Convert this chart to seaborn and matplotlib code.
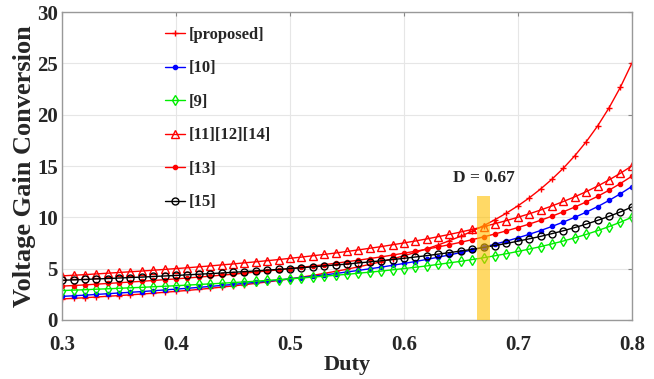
import matplotlib
matplotlib.use("Agg")
import matplotlib.pyplot as plt
import seaborn as sns
import pandas as pd

duty = [round(0.30 + 0.01 * i, 2) for i in range(51)]

proposed = [2.04, 2.10, 2.16, 2.23, 2.30, 2.37, 2.44, 2.52, 2.60, 2.69, 2.78,
            2.87, 2.97, 3.08, 3.19, 3.31, 3.43, 3.56, 3.70, 3.84, 4.00, 4.16,
            4.34, 4.53, 4.73, 4.94, 5.17, 5.41, 5.67, 5.95, 6.25, 6.57, 6.93,
            7.30, 7.72, 8.16, 8.65, 9.18, 9.77, 10.41, 11.11, 11.89, 12.76,
            13.72, 14.79, 16.00, 17.36, 18.90, 20.66, 22.68, 25.00]
ref10 = [2.29, 2.35, 2.41, 2.48, 2.55, 2.62, 2.69, 2.76, 2.84, 2.92, 3.00,
         3.08, 3.17, 3.26, 3.36, 3.45, 3.56, 3.66, 3.77, 3.88, 4.00, 4.12,
         4.25, 4.38, 4.52, 4.67, 4.82, 4.98, 5.14, 5.32, 5.50, 5.69, 5.89,
         6.11, 6.33, 6.57, 6.82, 7.09, 7.38, 7.68, 8.00, 8.34, 8.71, 9.11,
         9.54, 10.00, 10.50, 11.04, 11.64, 12.29, 13.00]
ref9 = [2.86, 2.90, 2.94, 2.99, 3.03, 3.08, 3.13, 3.17, 3.23, 3.28, 3.33,
        3.39, 3.45, 3.51, 3.57, 3.64, 3.70, 3.77, 3.85, 3.92, 4.00, 4.08,
        4.17, 4.26, 4.35, 4.44, 4.55, 4.65, 4.76, 4.88, 5.00, 5.13, 5.26,
        5.41, 5.56, 5.71, 5.88, 6.06, 6.25, 6.45, 6.67, 6.90, 7.14, 7.41,
        7.69, 8.00, 8.33, 8.70, 9.09, 9.52, 10.00]
ref11_12_14 = [4.29, 4.35, 4.41, 4.48, 4.55, 4.62, 4.69, 4.76, 4.84, 4.92, 5.00,
               5.08, 5.17, 5.26, 5.36, 5.45, 5.56, 5.66, 5.77, 5.88, 6.00, 6.12,
               6.25, 6.38, 6.52, 6.67, 6.82, 6.98, 7.14, 7.32, 7.50, 7.69, 7.89,
               8.11, 8.33, 8.57, 8.82, 9.09, 9.38, 9.68, 10.00, 10.34, 10.71,
               11.11, 11.54, 12.00, 12.50, 13.04, 13.64, 14.29, 15.00]
ref13 = [3.29, 3.35, 3.41, 3.48, 3.55, 3.62, 3.69, 3.76, 3.84, 3.92, 4.00,
         4.08, 4.17, 4.26, 4.36, 4.45, 4.56, 4.66, 4.77, 4.88, 5.00, 5.12,
         5.25, 5.38, 5.52, 5.67, 5.82, 5.98, 6.14, 6.32, 6.50, 6.69, 6.89,
         7.11, 7.33, 7.57, 7.82, 8.09, 8.38, 8.68, 9.00, 9.34, 9.71, 10.11,
         10.54, 11.00, 11.50, 12.04, 12.64, 13.29, 14.00]
ref15 = [3.86, 3.90, 3.94, 3.99, 4.03, 4.08, 4.13, 4.17, 4.23, 4.28, 4.33,
         4.39, 4.45, 4.51, 4.57, 4.64, 4.70, 4.77, 4.85, 4.92, 5.00, 5.08,
         5.17, 5.26, 5.35, 5.44, 5.55, 5.65, 5.76, 5.88, 6.00, 6.13, 6.26,
         6.41, 6.56, 6.71, 6.88, 7.06, 7.25, 7.45, 7.67, 7.90, 8.14, 8.41,
         8.69, 9.00, 9.33, 9.70, 10.09, 10.52, 11.00]

labels = ["[proposed]", "[10]", "[9]", "[11][12][14]", "[13]", "[15]"]
highlight_d = 0.67

sns.set_style("whitegrid")
plt.rcParams["font.family"] = ["Liberation Serif", "DejaVu Serif"]
plt.rcParams["font.weight"] = "bold"

fig = plt.figure(figsize=(6.54, 3.79), dpi=100)
ax = fig.add_axes([0.095, 0.156, 0.871, 0.812])

styles = [
    dict(color="#ff0000", marker="+", markersize=5, markeredgewidth=1.0,
         markerfacecolor="#ff0000"),
    dict(color="#0000ff", marker=".", markersize=6, markeredgewidth=1.0,
         markerfacecolor="#0000ff"),
    dict(color="#00ee00", marker="d", markersize=5, markeredgewidth=1.0,
         markerfacecolor="none"),
    dict(color="#ff0000", marker="^", markersize=6, markeredgewidth=1.0,
         markerfacecolor="none"),
    dict(color="#ff0000", marker=".", markersize=6, markeredgewidth=1.0,
         markerfacecolor="#ff0000"),
    dict(color="#000000", marker="o", markersize=5, markeredgewidth=1.0,
         markerfacecolor="none"),
]
series = [proposed, ref10, ref9, ref11_12_14, ref13, ref15]

df = pd.concat([pd.DataFrame({"Duty": duty, "Gain": ys, "Ref": lab})
                for ys, lab in zip(series, labels)], ignore_index=True)
palette = {lab: st["color"] for lab, st in zip(labels, styles)}
sns.lineplot(data=df, x="Duty", y="Gain", hue="Ref", hue_order=labels,
             palette=palette, linewidth=1.0, ax=ax, legend=False)

for line, st, lab in zip(ax.lines, styles, labels):
    line.set_linestyle("-")
    line.set_marker(st["marker"])
    line.set_markersize(st["markersize"])
    line.set_markeredgewidth(st["markeredgewidth"])
    line.set_markeredgecolor(st["color"])
    line.set_markerfacecolor(st["markerfacecolor"])
    line.set_label(lab)

# highlight band at D = 0.67
ax.fill_between([highlight_d - 0.006, highlight_d + 0.006], 0, 12.1,
                color="#ffc000", alpha=0.6, linewidth=0, zorder=3)
ax.text(highlight_d, 13.8, "D = 0.67", ha="center", va="center",
        fontsize=12.5, fontweight="bold")

ax.set_xlim(0.3, 0.8)
ax.set_ylim(0, 30)
ax.set_xticks([0.3, 0.4, 0.5, 0.6, 0.7, 0.8])
ax.set_yticks([0, 5, 10, 15, 20, 25, 30])
ax.set_xticklabels(["0.3", "0.4", "0.5", "0.6", "0.7", "0.8"])
ax.tick_params(axis="both", labelsize=15, length=3, direction="in",
               right=True, top=True, color="#888888")
ax.tick_params(axis="x", pad=11)
ax.tick_params(axis="y", pad=3)
for t in ax.get_xticklabels() + ax.get_yticklabels():
    t.set_fontweight("bold")
ax.grid(True, color="#e6e6e6", linewidth=0.8)
for sp in ax.spines.values():
    sp.set_color("#999999")
    sp.set_linewidth(1.0)

ax.set_xlabel("Duty", fontsize=16, fontweight="bold", labelpad=0)
ax.set_ylabel("Voltage Gain Conversion", fontsize=19, fontweight="bold",
              labelpad=1)

leg = ax.legend(handles=list(ax.lines), loc="upper left",
                bbox_to_anchor=(0.16, 0.99), frameon=False,
                fontsize=12, handlelength=1.2, handletextpad=0.2,
                labelspacing=1.05, borderaxespad=0.3)
for t in leg.get_texts():
    t.set_fontweight("bold")

fig.savefig("out.png", dpi=100)
